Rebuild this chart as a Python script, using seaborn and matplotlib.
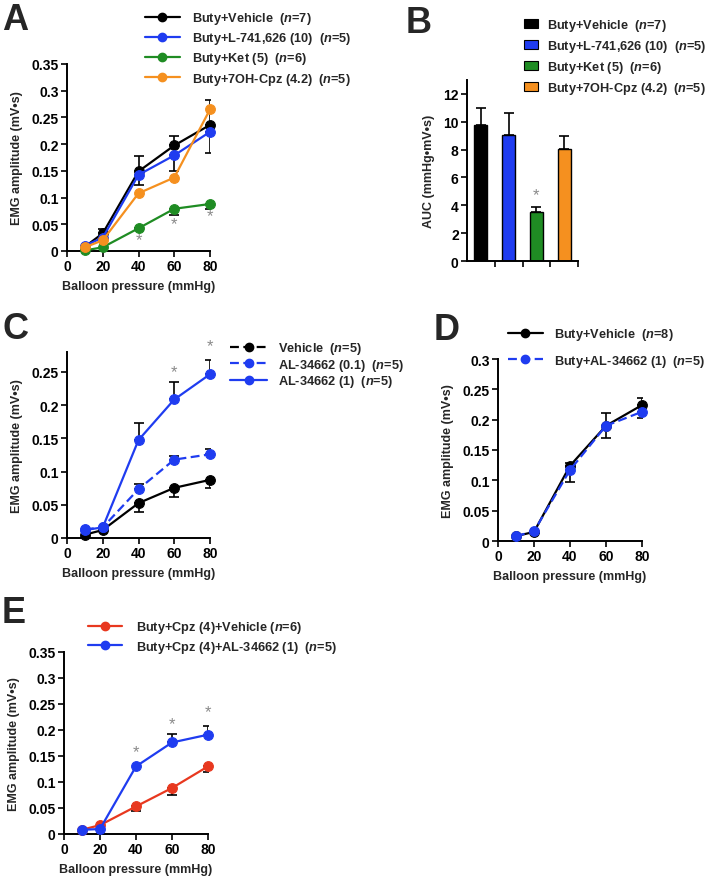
import numpy as np
import matplotlib
matplotlib.use("Agg")
import matplotlib.pyplot as plt
from matplotlib.lines import Line2D
from matplotlib.patches import Patch
from matplotlib.ticker import FuncFormatter
import seaborn as sns

# -------------------------------
# Data
# -------------------------------
pressure = [10, 20, 40, 60, 80]

# Panel A
a_vehicle = [0.008, 0.033, 0.149, 0.1975, 0.236]
a_vehicle_hi = [0, 0.009, 0.028, 0.018, 0.047]
a_l741 = [0.010, 0.025, 0.1425, 0.179, 0.223]
a_l741_lo = [0, 0, 0.019, 0.030, 0.040]
a_ket = [0.001, 0.007, 0.0425, 0.079, 0.088]
a_ket_lo = [0, 0, 0.004, 0.012, 0.010]
a_cpz = [0.007, 0.020, 0.108, 0.1375, 0.265]
a_stars_x = [40, 60, 80]
a_stars_y = [0.0206, 0.0505, 0.0655]

# Panel B
b_groups = ["Buty+Vehicle", "Buty+L-741,626 (10)", "Buty+Ket (5)", "Buty+7OH-Cpz (4.2)"]
b_auc = [9.8, 9.05, 3.5, 8.05]
b_auc_hi = [1.2, 1.55, 0.4, 0.95]
b_n = [7, 5, 6, 5]

# Panel C
c_vehicle = [0.005, 0.012, 0.0525, 0.0755, 0.0875]
c_vehicle_lo = [0, 0, 0.014, 0.0145, 0.012]
c_al01 = [0.013, 0.016, 0.0735, 0.118, 0.126]
c_al01_hi = [0, 0, 0.0075, 0.0055, 0.0085]
c_al1 = [0.012, 0.016, 0.1475, 0.2085, 0.2465]
c_al1_hi = [0, 0, 0.025, 0.026, 0.021]
c_stars_x = [60, 80]
c_stars_y = [0.250, 0.289]

# Panel D
d_vehicle = [0.008, 0.015, 0.124, 0.190, 0.224]
d_vehicle_hi = [0, 0, 0.004, 0.021, 0.011]
d_al1 = [0.008, 0.016, 0.117, 0.190, 0.213]
d_al1_lo = [0, 0, 0.020, 0.020, 0.010]

# Panel E
e_vehicle = [0.0083, 0.017, 0.053, 0.0885, 0.130]
e_vehicle_lo = [0, 0, 0.0095, 0.013, 0.010]
e_al1 = [0.008, 0.0096, 0.130, 0.176, 0.191]
e_al1_hi = [0, 0, 0, 0.016, 0.017]
e_stars_x = [40, 60, 80]
e_stars_y = [0.159, 0.213, 0.235]

BLACK = "#000000"
BLUE = "#1f3cf0"
GREEN = "#1f8c23"
ORANGE = "#f5901f"
RED = "#e8381f"
STAR = "#8a8a8a"

# -------------------------------
# Style
# -------------------------------
sns.set_style("ticks")
plt.rcParams["font.family"] = ["Liberation Sans", "DejaVu Sans"]
plt.rcParams["font.weight"] = "bold"
plt.rcParams["axes.labelweight"] = "bold"
plt.rcParams["mathtext.fontset"] = "custom"
plt.rcParams["mathtext.it"] = "Liberation Sans:italic:bold"
plt.rcParams["mathtext.rm"] = "Liberation Sans:bold"
FS = 10      # tick text
LEG = 9.2    # legend text
LFS = 9      # axis labels

W, H = 709, 878
fig = plt.figure(figsize=(W / 100, H / 100), dpi=100)


def px_axes(left, right, top, bottom):
    return fig.add_axes([left / W, 1 - bottom / H, (right - left) / W, (bottom - top) / H])


def style_axes(ax, ymax, ystep):
    for side in ["top", "right"]:
        ax.spines[side].set_visible(False)
    for side in ["left", "bottom"]:
        ax.spines[side].set_linewidth(1.4)
        ax.spines[side].set_color("black")
    ax.tick_params(direction="out", length=4, width=1.2, labelsize=FS, pad=2, colors="black")
    ax.set_ylim(0, ymax)
    ax.set_yticks(np.arange(0, ymax + 1e-9, ystep))
    ax.yaxis.set_major_formatter(FuncFormatter(lambda v, p: "%g" % round(v, 3)))


def curve_axes(ax, ymax, ystep):
    style_axes(ax, ymax, ystep)
    ax.set_xlim(0, 80)
    ax.set_xticks([0, 20, 40, 60, 80])
    ax.set_xlabel("Balloon pressure (mmHg)", fontsize=LFS, labelpad=5)
    ax.set_ylabel("EMG amplitude (mV\u2022s)", fontsize=LFS, labelpad=6)
    for lab in ax.get_xticklabels() + ax.get_yticklabels():
        lab.set_fontweight("bold")


def draw_series(ax, y, color, lo=None, hi=None, ls="-"):
    x = np.array(pressure, dtype=float)
    y = np.array(y, dtype=float)
    lo = np.zeros_like(y) if lo is None else np.array(lo, dtype=float)
    hi = np.zeros_like(y) if hi is None else np.array(hi, dtype=float)
    m = (lo > 0) | (hi > 0)
    if m.any():
        ax.errorbar(x[m], y[m], yerr=[lo[m], hi[m]], fmt="none", ecolor="black",
                    elinewidth=1.2, capsize=3.6, capthick=1.2, zorder=2)
    sns.lineplot(x=x, y=y, ax=ax, color=color, linewidth=1.6, linestyle=ls,
                 marker="o", markersize=7, markeredgecolor=color, markeredgewidth=0.8,
                 zorder=3, clip_on=False)


def stars(ax, xs, ys):
    for x, y in zip(xs, ys):
        ax.text(x, y, "*", color=STAR, fontsize=12, ha="center", va="center",
                fontweight="normal", clip_on=False)


def nlab(text, n, gap="  "):
    return text + gap + r"($\it{n}$=%d)" % n


def line_handle(color, ls="-"):
    return Line2D([0], [0], color=color, linestyle=ls, linewidth=1.6, marker="o",
                  markersize=6, markeredgecolor=color)


def legend_at(ax, handles, labels, x, y, hl, spacing, pad):
    ax.legend(handles, labels, loc="upper left", bbox_to_anchor=(x / W, 1 - y / H),
              bbox_transform=fig.transFigure, frameon=False, fontsize=LEG,
              handlelength=hl, handletextpad=pad, labelspacing=spacing,
              borderpad=0, borderaxespad=0)


def panel_label(letter, x, y):
    fig.text(x / W, 1 - y / H, letter, fontsize=26, fontweight="bold", ha="left", va="top")


# -------------------------------
# Panel A
# -------------------------------
axA = px_axes(67, 210, 65, 252)
draw_series(axA, a_vehicle, BLACK, hi=a_vehicle_hi)
draw_series(axA, a_l741, BLUE, lo=a_l741_lo)
draw_series(axA, a_ket, GREEN, lo=a_ket_lo)
draw_series(axA, a_cpz, ORANGE)
curve_axes(axA, 0.35, 0.05)
stars(axA, a_stars_x, a_stars_y)
legend_at(axA,
          [line_handle(BLACK), line_handle(BLUE), line_handle(GREEN), line_handle(ORANGE)],
          [nlab("Buty+Vehicle", 7), nlab("Buty+L-741,626 (10)", 5),
           nlab("Buty+Ket (5)", 6), nlab("Buty+7OH-Cpz (4.2)", 5)],
          145, 11, 2.73, 0.33, 0.94)
panel_label("A", 2, 3)

# -------------------------------
# Panel B
# -------------------------------
axB = px_axes(467, 578, 81, 262)
b_colors = [BLACK, BLUE, GREEN, ORANGE]
sns.barplot(x=b_groups, y=b_auc, hue=b_groups, palette=b_colors, legend=False,
            saturation=1, width=0.47, edgecolor="black", linewidth=1.0,
            errorbar=None, ax=axB)
axB.errorbar(range(len(b_auc)), b_auc, yerr=[np.zeros(len(b_auc)), b_auc_hi], fmt="none",
             ecolor="black", elinewidth=1.2, capsize=3.6, capthick=1.2, zorder=1)
style_axes(axB, 13, 2)
axB.set_yticks(np.arange(0, 13, 2))
axB.set_xlim(-0.5, 3.5)
axB.set_xticks([0.5, 1.5, 2.5, 3.5])
axB.set_xticklabels([])
axB.set_xlabel("")
axB.set_ylabel("AUC (mmHg\u2022mV\u2022s)", fontsize=LFS, labelpad=6, fontweight="bold")
for lab in axB.get_yticklabels():
    lab.set_fontweight("bold")
axB.text(2, 4.8, "*", color=STAR, fontsize=12, ha="center", va="center", fontweight="normal")
legend_at(axB,
          [Patch(facecolor=c, edgecolor="black", linewidth=0.8) for c in b_colors],
          [nlab(g, n) for g, n in zip(b_groups, b_n)],
          524, 18, 1.1, 0.4, 0.7)
panel_label("B", 406, 6)

# -------------------------------
# Panel C
# -------------------------------
axC = px_axes(67, 210, 353, 539)
draw_series(axC, c_vehicle, BLACK, lo=c_vehicle_lo)
draw_series(axC, c_al01, BLUE, hi=c_al01_hi, ls=(0, (4, 2)))
draw_series(axC, c_al1, BLUE, hi=c_al1_hi)
curve_axes(axC, 0.28, 0.05)
stars(axC, c_stars_x, c_stars_y)
legend_at(axC,
          [line_handle(BLACK, (0, (4, 2))), line_handle(BLUE, (0, (4, 2))), line_handle(BLUE)],
          [nlab("Vehicle", 5), nlab("AL-34662 (0.1)", 5), nlab("AL-34662 (1)", 5)],
          230, 341, 2.9, 0.05, 0.86)
panel_label("C", 2, 312)

# -------------------------------
# Panel D
# -------------------------------
axD = px_axes(498, 642, 360, 542)
draw_series(axD, d_vehicle, BLACK, hi=d_vehicle_hi)
draw_series(axD, d_al1, BLUE, lo=d_al1_lo, ls=(0, (4, 2)))
curve_axes(axD, 0.3, 0.05)
legend_at(axD,
          [line_handle(BLACK), line_handle(BLUE, (0, (4, 2)))],
          [nlab("Buty+Vehicle", 8), nlab("Buty+AL-34662 (1)", 5)],
          508, 327, 2.73, 0.85, 0.86)
panel_label("D", 434, 313)

# -------------------------------
# Panel E
# -------------------------------
axE = px_axes(64, 208, 653, 835)
draw_series(axE, e_vehicle, RED, lo=e_vehicle_lo)
draw_series(axE, e_al1, BLUE, hi=e_al1_hi)
curve_axes(axE, 0.35, 0.05)
stars(axE, e_stars_x, e_stars_y)
legend_at(axE,
          [line_handle(RED), line_handle(BLUE)],
          [nlab("Buty+Cpz (4)+Vehicle", 6, " "), nlab("Buty+Cpz (4)+AL-34662 (1)", 5)],
          88, 620, 2.65, 0.28, 1.1)
panel_label("E", 2, 596)

fig.savefig("out.png", dpi=100)
